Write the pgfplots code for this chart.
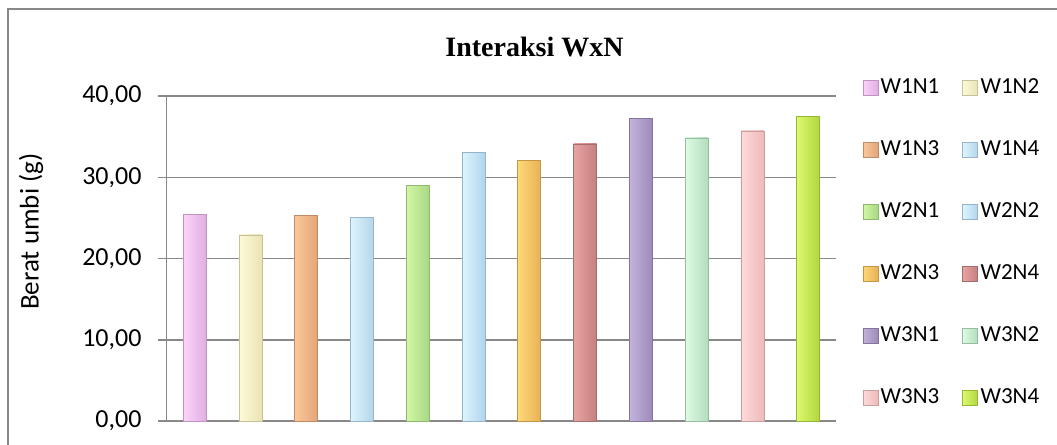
\documentclass[border=0pt]{standalone}
\usepackage{fontspec}
\setmainfont{Carlito}
\newfontfamily\titlefont{Liberation Serif}
\usepackage{pgfplots}
\pgfplotsset{compat=1.18}

% bar colours, light (left) and dark (right) side
\definecolor{aA}{HTML}{FAD4FA}\definecolor{aB}{HTML}{E2AEE2}
\definecolor{bA}{HTML}{FCFAD8}\definecolor{bB}{HTML}{EAE3B4}
\definecolor{cA}{HTML}{FBC898}\definecolor{cB}{HTML}{E2A57A}
\definecolor{dA}{HTML}{DCF4FD}\definecolor{dB}{HTML}{B5D5EA}
\definecolor{eA}{HTML}{D2F7A4}\definecolor{eB}{HTML}{A8D884}
\definecolor{fA}{HTML}{DCF6FE}\definecolor{fB}{HTML}{B2D3EC}
\definecolor{gA}{HTML}{FDD877}\definecolor{gB}{HTML}{E9B155}
\definecolor{hA}{HTML}{E9A3A3}\definecolor{hB}{HTML}{C47F7F}
\definecolor{iA}{HTML}{C4B3DC}\definecolor{iB}{HTML}{9C8AB8}
\definecolor{jA}{HTML}{DDFBE3}\definecolor{jB}{HTML}{B3DDBB}
\definecolor{kA}{HTML}{FEDADA}\definecolor{kB}{HTML}{EDBABA}
\definecolor{lA}{HTML}{DDF86E}\definecolor{lB}{HTML}{B0D640}
\definecolor{gridgray}{HTML}{888888}

\pgfplotsset{
  bevel/.style n args={2}{ybar, bar width=11.5pt, left color=#1, right color=#2, draw=#2!85!black, line width=0.3pt},
}

\begin{document}
\begin{tikzpicture}
\useasboundingbox (0,0) rectangle (528.5pt,-222.5pt);
\draw[gridgray, line width=0.75pt] (4pt,-230pt) -- (4pt,-4.5pt) -- (535pt,-4.5pt);

\begin{axis}[
  at={(83.35pt,-210.5pt)}, anchor=south west,
  width=334.7pt, height=162.5pt, scale only axis,
  xmin=-0.5, xmax=11.5, ymin=0, ymax=40,
  xtick=\empty, ytick={0,10,...,40},
  axis x line*=bottom, axis y line*=left,
  axis line style={gridgray, line width=0.75pt, -},
  ymajorgrids, grid style={gridgray, line width=0.75pt},
  tick align=outside, major tick length=4.4pt,
  tick style={gridgray, line width=0.75pt},
  yticklabel style={font=\fontsize{13}{15}\selectfont, inner sep=0pt, xshift=-8pt,
    /pgf/number format/.cd, fixed, fixed zerofill, precision=2, use comma, assume math mode=true},
  legend columns=2,
  legend style={draw=none, fill=none, inner sep=0pt, anchor=north west,
    at={(axis description cs:1.0389,1.06)},
    font=\fontsize{11.5}{13}\selectfont,
    /tikz/every odd column/.append style={column sep=0.3pt},
    /tikz/every even column/.append style={column sep=10.5pt},
    row sep=20pt,
    nodes={inner sep=1pt}},
  legend image code/.code={\draw[#1, line width=0.3pt] (0pt,-3.7pt) rectangle (7.5pt,3.7pt);},
  clip=false,
]
\addplot[bevel={aA}{aB}] coordinates {(0,25.4)};
\addplot[bevel={bA}{bB}] coordinates {(1,22.9)};
\addplot[bevel={cA}{cB}] coordinates {(2,25.3)};
\addplot[bevel={dA}{dB}] coordinates {(3,25.05)};
\addplot[bevel={eA}{eB}] coordinates {(4,29.0)};
\addplot[bevel={fA}{fB}] coordinates {(5,33.1)};
\addplot[bevel={gA}{gB}] coordinates {(6,32.1)};
\addplot[bevel={hA}{hB}] coordinates {(7,34.1)};
\addplot[bevel={iA}{iB}] coordinates {(8,37.2)};
\addplot[bevel={jA}{jB}] coordinates {(9,34.85)};
\addplot[bevel={kA}{kB}] coordinates {(10,35.7)};
\addplot[bevel={lA}{lB}] coordinates {(11,37.5)};
\legend{W1N1,W1N2,W1N3,W1N4,W2N1,W2N2,W2N3,W2N4,W3N1,W3N2,W3N3,W3N4}
\end{axis}

\node[font=\titlefont\bfseries\fontsize{14}{16}\selectfont] at (267.25pt,-23.5pt) {Interaksi WxN};
\node[rotate=90, font=\fontsize{13.5}{15}\selectfont] at (15.5pt,-115.8pt) {Berat umbi (g)};
\end{tikzpicture}
\end{document}
